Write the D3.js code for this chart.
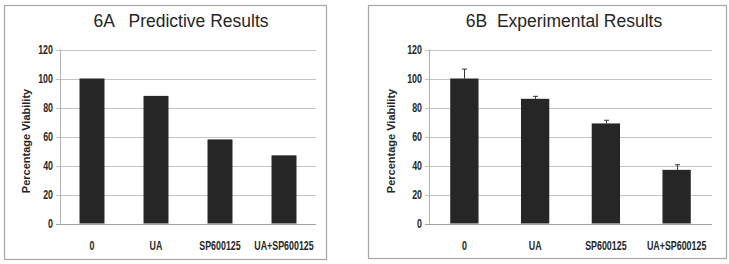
<!DOCTYPE html>
<html>
<head>
<meta charset="utf-8">
<script src="https://cdn.jsdelivr.net/npm/d3@7"></script>
<style>
  body { margin: 0; background: #fff; }
  svg { display: block; }
</style>
</head>
<body>
<script>
// Values
const categories = ["0", "UA", "SP600125", "UA+SP600125"];
const predictive = [100, 88, 58, 47];
const experimental = [100, 86, 69, 37];
const experimentalErr = [6.5, 1.7, 2.2, 3.5];
const yTicks = [0, 20, 40, 60, 80, 100, 120];

const width = 729;
const height = 264;

// squeeze factor to mimic the narrow bold label font
const squeeze = 0.74;

const svg = d3.select("body").append("svg")
    .attr("width", width)
    .attr("height", height);

function narrowText(sel) {
  sel.attr("font-family", "Liberation Sans, Arial, sans-serif")
      .attr("font-weight", "bold")
      .attr("font-size", 12)
      .attr("fill", "#262626");
}

function drawPanel(opts) {
  const g = svg.append("g");

  // Panel frame
  g.append("rect")
      .attr("x", opts.box[0] + 0.5)
      .attr("y", opts.box[1] + 0.5)
      .attr("width", opts.box[2] - opts.box[0])
      .attr("height", opts.box[3] - opts.box[1])
      .attr("fill", "#fff")
      .attr("stroke", "#a6a6a6")
      .attr("stroke-width", 1.2);

  const x = d3.scaleBand()
      .domain(categories)
      .range([opts.left, opts.right])
      .paddingInner(opts.pad)
      .paddingOuter(opts.pad / 2);

  const y = d3.scaleLinear()
      .domain([0, 120])
      .range([223.5, 49.5]);

  // Gridlines
  g.append("g")
    .selectAll("line")
    .data(yTicks)
    .join("line")
      .attr("x1", opts.left - 4)
      .attr("x2", opts.right)
      .attr("y1", d => Math.round(y(d)) + 0.5)
      .attr("y2", d => Math.round(y(d)) + 0.5)
      .attr("stroke", d => d === 0 ? "#a0a0a0" : "#c4c4c4")
      .attr("stroke-width", 1);

  // Y axis line
  g.append("line")
      .attr("x1", opts.left + 0.5)
      .attr("x2", opts.left + 0.5)
      .attr("y1", y(120))
      .attr("y2", y(0))
      .attr("stroke", "#b0b0b0");

  // Y tick labels
  g.append("g")
    .selectAll("text")
    .data(yTicks)
    .join("text")
      .attr("transform", d => `translate(${opts.left - 7},${y(d)}) scale(${squeeze},1)`)
      .attr("dy", "0.36em")
      .attr("text-anchor", "end")
      .call(narrowText)
      .text(d => d);

  // Bars
  g.append("g")
    .selectAll("rect")
    .data(opts.values)
    .join("rect")
      .attr("x", (d, i) => x(categories[i]))
      .attr("y", d => y(d))
      .attr("width", x.bandwidth())
      .attr("height", d => y(0) - y(d))
      .attr("fill", "#262626");

  // Error bars (upper only)
  if (opts.errors) {
    const eb = g.append("g")
        .attr("stroke", "#333")
        .attr("stroke-width", 1);
    opts.errors.forEach((e, i) => {
      const cx = Math.round(x(categories[i]) + x.bandwidth() / 2) + 0.5;
      eb.append("line")
          .attr("x1", cx).attr("x2", cx)
          .attr("y1", y(opts.values[i]))
          .attr("y2", y(opts.values[i] + e));
      eb.append("line")
          .attr("x1", cx - 2.5).attr("x2", cx + 2.5)
          .attr("y1", y(opts.values[i] + e))
          .attr("y2", y(opts.values[i] + e));
    });
  }

  // X labels
  g.append("g")
    .selectAll("text")
    .data(categories)
    .join("text")
      .attr("transform", d => `translate(${x(d) + x.bandwidth() / 2},250) scale(${squeeze},1)`)
      .attr("text-anchor", "middle")
      .call(narrowText)
      .text(d => d);

  // Y axis title
  g.append("text")
      .attr("transform", `translate(${opts.ylabX},141) rotate(-90)`)
      .attr("text-anchor", "middle")
      .attr("font-family", "Liberation Sans, Arial, sans-serif")
      .attr("font-weight", "bold")
      .attr("font-size", 11)
      .attr("fill", "#262626")
      .text("Percentage Viability");

  // Chart title
  g.append("text")
      .attr("x", opts.titleX)
      .attr("y", 27)
      .attr("text-anchor", "middle")
      .attr("font-family", "Liberation Sans, Arial, sans-serif")
      .attr("font-size", 17.5)
      .attr("fill", "#262626")
      .style("white-space", "pre")
      .text(opts.title);
}

drawPanel({
  box: [4, 5, 326, 259],
  left: 60, right: 316, pad: 0.61,
  values: predictive,
  title: "6A   Predictive Results",
  titleX: 181, ylabX: 30
});

drawPanel({
  box: [368, 5, 726, 258],
  left: 429, right: 712, pad: 0.6,
  values: experimental,
  errors: experimentalErr,
  title: "6B  Experimental Results",
  titleX: 564, ylabX: 395
});
</script>
</body>
</html>
